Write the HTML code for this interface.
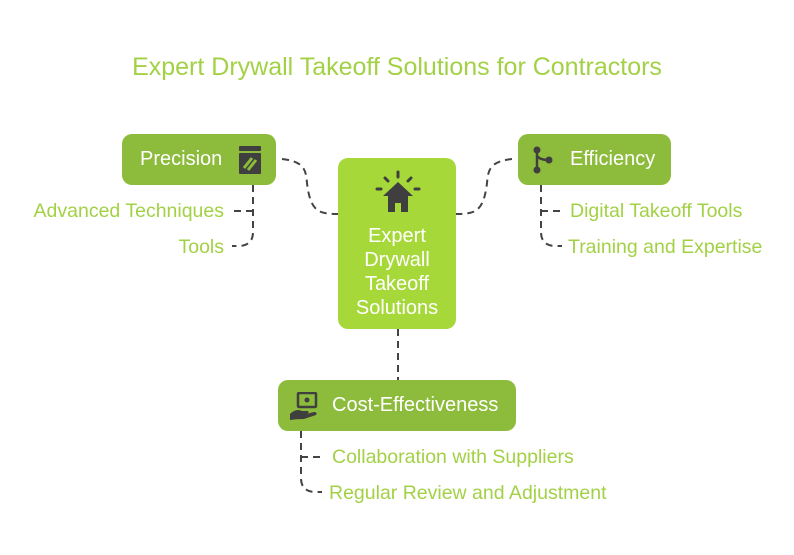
<!DOCTYPE html>
<html><head><style>
body{margin:0;width:794px;height:555px;background:#fff;font-family:"Liberation Sans",sans-serif;position:relative;overflow:hidden}
.t{position:absolute;white-space:nowrap}
.box{position:absolute;background:#8dbb3b;border-radius:10px;color:#fff;font-size:20px}
.lbl{position:absolute;color:#a3d146;font-size:19.5px;white-space:nowrap}
</style></head><body>
<div class="t" style="left:0;width:794px;text-align:center;top:53px;font-size:25px;color:#a3d146">Expert Drywall Takeoff Solutions for Contractors</div>
<svg width="794" height="555" style="position:absolute;left:0;top:0">
<g fill="none" stroke="#444" stroke-width="2" stroke-dasharray="7,5">
<path d="M282 159 C310 162 305 175 308 190 C312 212 320 214 338 214"/>
<path d="M512 159 C484 162 489 175 486 190 C482 212 474 214 456 214"/>
<path d="M398 329 V380"/>
<path d="M253 185 V232 Q253 245 240 246 H232"/>
<path d="M253 211 H232"/>
<path d="M541 185 V232 Q541 245 554 246 H562"/>
<path d="M541 211 H562"/>
<path d="M301 431 V478 Q301 491 314 492 H322"/>
<path d="M301 457 H322"/>
</g>
</svg>
<div class="box" style="left:122px;top:134px;width:154px;height:51px"><span class="t" style="left:18px;top:14px">Precision</span>
<svg style="position:absolute;left:116px;top:12px" width="24" height="28"><rect x="1" y="0" width="22" height="5" rx="1" fill="#3f3f3f"/><rect x="1" y="7" width="22" height="21" rx="1" fill="#3f3f3f"/><path d="M6 22 L14 12 M10 24 L18 14" stroke="#8dbb3b" stroke-width="3"/></svg></div>
<div class="box" style="left:518px;top:134px;width:153px;height:51px"><span class="t" style="left:52px;top:14px">Efficiency</span>
<svg style="position:absolute;left:14px;top:12px" width="24" height="28"><g fill="#3f3f3f"><circle cx="5" cy="4" r="3.5"/><circle cx="5" cy="24" r="3.5"/><circle cx="17" cy="14" r="3.5"/></g><path d="M5 4 V24 M5 10 Q8 14 17 14" stroke="#3f3f3f" stroke-width="2.5" fill="none"/></svg></div>
<div class="box" style="left:338px;top:158px;width:118px;height:171px;background:#a6d83a">
<svg style="position:absolute;left:35px;top:12px" width="50" height="46"><g stroke="#3f3f3f" stroke-width="3" stroke-linecap="round"><path d="M25 2 V7 M12 8 L15 11 M38 8 L35 11 M4 19 H8 M42 19 H46"/></g><path d="M25 12 L10 26 H15 V42 H22 V33 H28 V42 H35 V26 H40 Z" fill="#3f3f3f"/></svg>
<div class="t" style="left:0;width:118px;top:66px;text-align:center;line-height:24px">Expert<br>Drywall<br>Takeoff<br>Solutions</div></div>
<div class="box" style="left:278px;top:380px;width:238px;height:51px"><span class="t" style="left:54px;top:14px">Cost-Effectiveness</span>
<svg style="position:absolute;left:10px;top:12px" width="32" height="30"><rect x="10" y="1" width="18" height="14" rx="1" fill="none" stroke="#3f3f3f" stroke-width="2.5"/><circle cx="19" cy="8" r="2.5" fill="#3f3f3f"/><path d="M2 22 Q8 16 14 19 L20 19 Q22 21 18 22 L26 20 Q30 20 28 23 L16 27 Q8 27 2 28 Z" fill="#3f3f3f"/></svg></div>
<div class="lbl" style="right:570px;top:200px">Advanced Techniques</div>
<div class="lbl" style="right:570px;top:236px">Tools</div>
<div class="lbl" style="left:570px;top:200px">Digital Takeoff Tools</div>
<div class="lbl" style="left:568px;top:236px">Training and Expertise</div>
<div class="lbl" style="left:332px;top:446px">Collaboration with Suppliers</div>
<div class="lbl" style="left:329px;top:482px">Regular Review and Adjustment</div>
</body></html>
